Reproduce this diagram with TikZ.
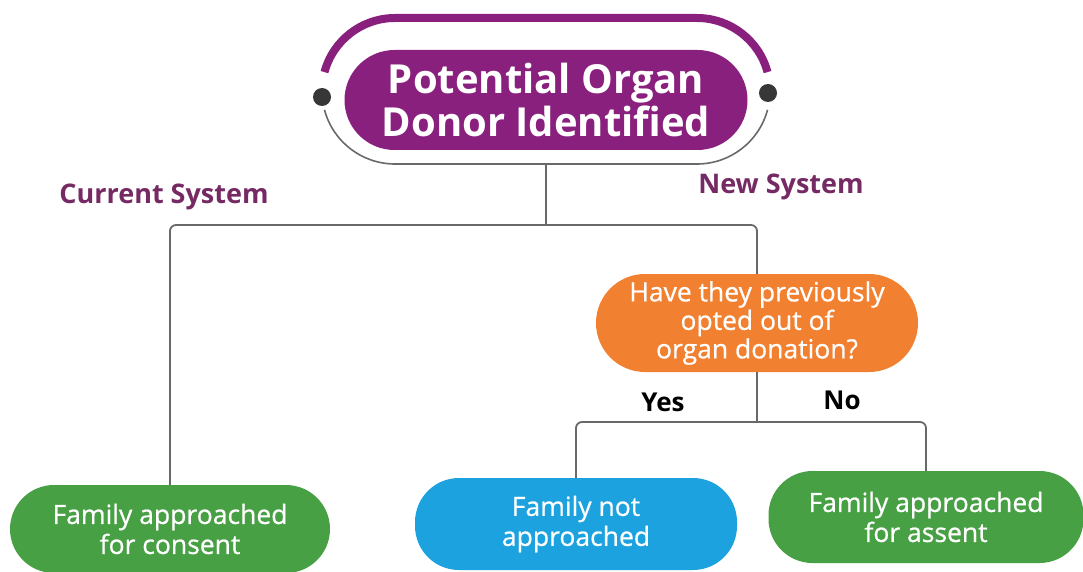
\documentclass[tikz,border=0pt]{standalone}
\usepackage{fontspec}
\setmainfont{Open Sans}
\newfontfamily\semifont[FakeBold=0.7]{Open Sans}
\usetikzlibrary{
	arrows.meta,
}
\definecolor{donorpurple}{RGB}{138,32,126}
\definecolor{labelpurple}{RGB}{118,42,100}
\definecolor{askorange}{RGB}{241,128,48}
\definecolor{famgreen}{RGB}{72,160,68}
\definecolor{famblue}{RGB}{28,162,222}
\definecolor{wire}{RGB}{105,105,105}
\definecolor{dotgrey}{RGB}{55,55,55}

\begin{document}
\begin{tikzpicture}[x=1pt,y=1pt]
		\tikzstyle{every node}+=[inner sep=0pt,align=center]
		\tikzstyle{pill}=[rounded corners=44pt,text=white,font=\semifont\fontsize{26.5}{30}\selectfont]
		\tikzstyle{link}=[wire,line width=1.8pt,rounded corners=6pt]
		\useasboundingbox (0,0) rectangle (1083,-572);
		% title and its frame
		\node [pill,fill=donorpurple,minimum width=403,minimum height=100,rounded corners=50pt,
			font=\fontsize{40}{43}\selectfont\bfseries] (donor) at (546,-100) {Potential Organ\\Donor Identified};
		\draw [donorpurple,line width=8pt] (395,-91) ++(165:73) arc (165:90:73) -- (697,-18) arc (90:15:73);
		\draw [wire,line width=1.6pt] (395,-91) ++(195:73) arc (195:270:73) -- (697,-164) arc (270:345:73);
		\fill [dotgrey] (322,-97) circle (9);
		\fill [dotgrey] (768,-93) circle (9);
		\coordinate (frame) at (546,-164);
		% system labels
		\node [text=labelpurple,font=\fontsize{27}{30}\selectfont\bfseries] (current) at (164,-197) {Current System};
		\node [text=labelpurple,font=\fontsize{27}{30}\selectfont\bfseries] (new) at (781,-187) {New System};
		% question
		\node [pill,fill=askorange,minimum width=322,minimum height=98,rounded corners=49pt,
			font=\semifont\fontsize{26.5}{28.5}\selectfont] (ask) at (757,-323) {Have they previously\\opted out of\\organ donation?};
		\node [font=\fontsize{26}{30}\selectfont\bfseries] (yes) at (663,-402) {Yes};
		\node [font=\fontsize{26}{30}\selectfont\bfseries] (no) at (842,-400) {No};
		% outcomes
		\node [pill,fill=famgreen,minimum width=320,minimum height=88] (consent) at (170,-529) {Family approached\\for consent};
		\node [pill,fill=famblue,minimum width=322,minimum height=92] (notapp) at (576,-524) {Family not\\approached};
		\node [pill,fill=famgreen,minimum width=315,minimum height=92] (assent) at (926,-517) {Family approached\\for assent};
		% connectors
		\coordinate (split) at (546,-225);
		\coordinate (branch) at (757,-422);
		\draw [link] (frame) -- (split);
		\draw [link] (consent.north) |- (split) -| (ask.north);
		\draw [link] (ask.south) -- (branch);
		\draw [link] (notapp.north) |- (branch) -| (assent.north);
		\end{tikzpicture}
\end{document}
